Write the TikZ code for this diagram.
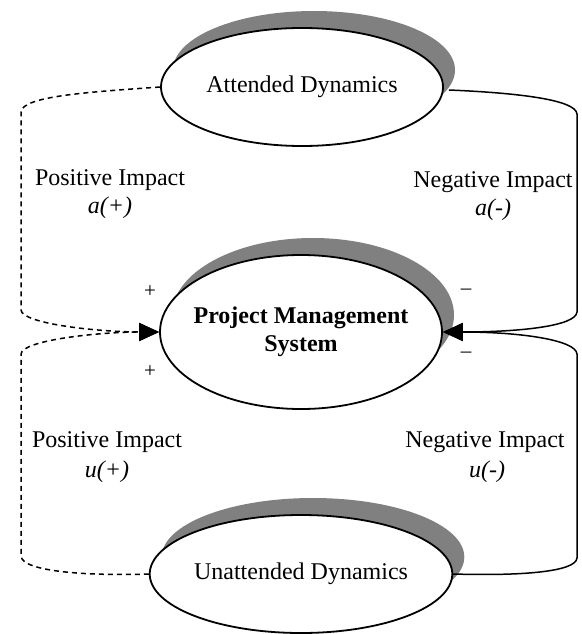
\documentclass[tikz,border=0pt]{standalone}
\usepackage{fontspec}
\setmainfont{Liberation Serif}
\usetikzlibrary{shapes.geometric,arrows.meta,shadows}
\tikzset{
  dyn/.style={ellipse, draw=black, line width=1.8pt, fill=white, inner sep=0pt,
    minimum width=282pt, minimum height=118pt,
    font=\fontsize{24}{28}\selectfont,
    drop shadow={shadow xshift=12pt, shadow yshift=17pt, fill=black!50, opacity=1}},
  lbl/.style={font=\fontsize{24}{28}\selectfont, inner sep=0pt},
  sgn/.style={font=\fontsize{21}{24}\selectfont, inner sep=0pt},
  posline/.style={dashed, dash pattern=on 5pt off 4pt, line width=1.5pt},
  negline/.style={line width=1.5pt},
  tipped/.style={-{Triangle[length=20pt,width=18pt]}}
}
\begin{document}
\begin{tikzpicture}[x=1pt,y=-1pt]
\useasboundingbox (0,0) rectangle (581,634);
\node[dyn] (att) at (302,87) {Attended Dynamics};
\node[dyn, minimum height=154pt, inner xsep=-15pt, align=center, font=\fontsize{24}{28}\selectfont\bfseries] (pms) at (301,332) {Project Management\\System};
\node[dyn] (una) at (301,574) {Unattended Dynamics};

\node[lbl] (pa) at (110,180) {Positive Impact};
\node[lbl] (pav) at (110,208) {\textit{a(+)}};
\node[lbl] (na) at (493,182) {Negative Impact};
\node[lbl] (nav) at (493,210) {\textit{a(-)}};
\node[lbl] (pu) at (107,442) {Positive Impact};
\node[lbl] (puv) at (107,472) {\textit{u(+)}};
\node[lbl] (nu) at (485,442) {Negative Impact};
\node[lbl] (nuv) at (487,472) {\textit{u(-)}};

\node[sgn] (s1) at (150,292) {+};
\node[sgn] (s2) at (150,372) {+};
\node[sgn] (s3) at (466,292) {--};
\node[sgn] (s4) at (466,355) {--};

% positive (dashed) connectors
\draw[posline,tipped] (att.west) .. controls (90,92) and (22,96) .. (21,112)
  -- (21,310) .. controls (22,324) and (100,332) .. (pms.west);
\draw[posline,tipped] (una.west) .. controls (90,576) and (22,572) .. (21,556)
  -- (21,354) .. controls (22,340) and (100,332) .. (pms.west);
% negative (solid) connectors
\draw[negline,tipped] (att.east) ++(5,3) .. controls (520,93) and (576,100) .. (577,114)
  -- (577,312) .. controls (576,326) and (520,332) .. (pms.east);
\draw[negline,tipped] (una.east) .. controls (520,576) and (576,572) .. (577,558)
  -- (577,354) .. controls (576,340) and (520,332) .. (pms.east);
\end{tikzpicture}
\end{document}
